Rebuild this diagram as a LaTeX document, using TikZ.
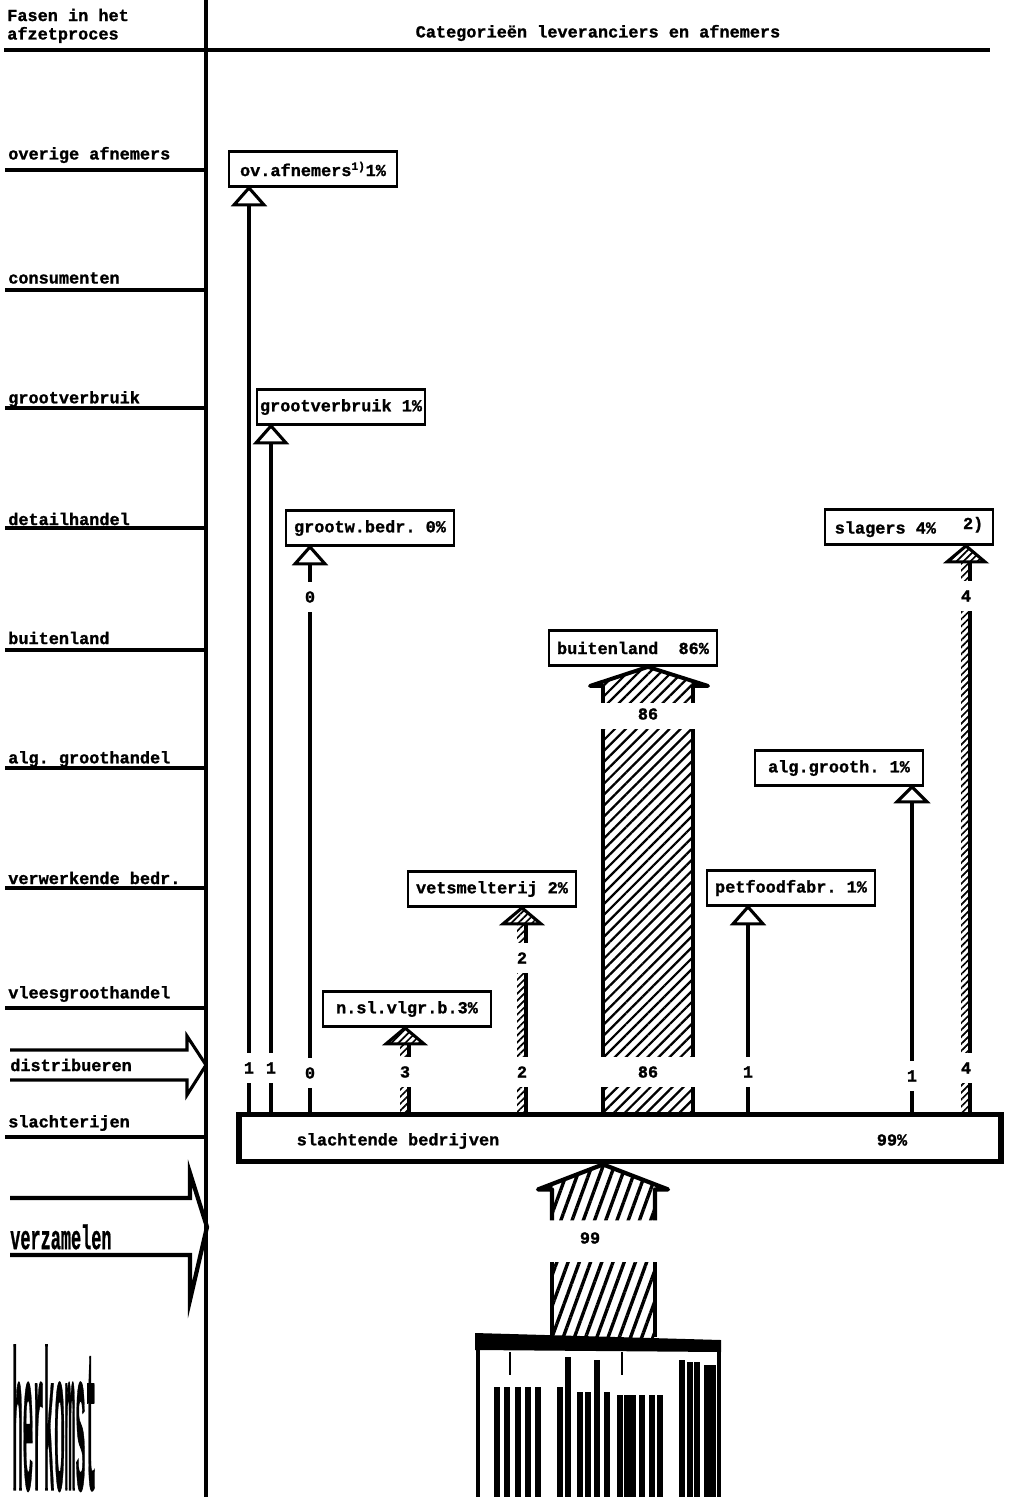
\documentclass[tikz,border=0pt]{standalone}
\usepackage{fontspec}
\setmainfont{Liberation Mono}[BoldFeatures={FakeBold=1.2}]
\usetikzlibrary{calc,patterns.meta}

\begin{document}
\frenchspacing
\begin{tikzpicture}[x=0.025cm,y=-0.025cm,
    font=\fontsize{12}{14}\selectfont\bfseries,
    phase/.style={anchor=west,inner sep=0pt},
    cat/.style={draw,line width=2pt,minimum width=4.2cm,minimum height=0.875cm,inner sep=2pt},
    num/.style={inner sep=0pt,minimum height=0.75cm},
    rule/.style={line width=2.2pt},
    flow/.style={line width=2.5pt},
    hatch/.style={pattern={Lines[angle=45,distance=3.5pt,line width=1.2pt]}},
    bighatch/.style={pattern={Lines[angle=45,distance=5.5pt,line width=1.6pt]}},
    steephatch/.style={pattern={Lines[angle=70,distance=7.5pt,line width=2.4pt]}},
    openhead/.style={line width=2.2pt,fill=white,line join=miter},
  ]
\useasboundingbox (0,0) rectangle (1009,1497);

% kop
\node[phase] (fasen) at (7,15) {Fasen in het};
\node[phase] (afzet) at (7,35) {afzetproces};
\node (categ) at (598,33) {Categorieën leveranciers en afnemers};
\draw[line width=2.8pt] (4,50) -- (990,50);
\draw[line width=3.5pt] (206,0) -- (206,1497);

% fasen in het afzetproces
\foreach \t/\y/\l [count=\i] in {overige afnemers/155/170, consumenten/278/290,
    grootverbruik/399/408, detailhandel/519/528, buitenland/638/650,
    alg. groothandel/759/768, verwerkende bedr./878/888,
    vleesgroothandel/994/1008, slachterijen/1123/1137}
  {
  \node[phase] (ph\i) at (8,\y) {\t};
  \draw[rule] (5,\l) -- (206,\l);
  }

\draw[rule,line join=miter] (10,1050) -- (187,1050) -- (187,1036) -- (206,1065)
  -- (187,1095) -- (187,1080) -- (10,1080);
\node[phase] (distr) at (10,1065) {distribueren};
\draw[line width=3pt,line join=miter] (10,1198) -- (190,1198) -- (190,1173) -- (207,1227)
  -- (190,1300) -- (190,1255) -- (10,1255);
\node[phase] (verz) at (10,1237) {\scalebox{1}[2]{verzamelen}};
\node[phase,anchor=north west] (herk) at (12,1345) {\resizebox{2.1cm}{3.6cm}{herkomst}};

% categorieen
\node[cat] (ovafn) at (313,169) {ov.afnemers\textsuperscript{1)}1\%};
\node[cat] (grootvb) at (341,407) {grootverbruik 1\%};
\node[cat] (grootw) at (370,528) {grootw.bedr. 0\%};
\node[cat] (slagers) at (909,527) {slagers 4\%\hspace{1.6em}\raisebox{0.5ex}{2)}};
\node[cat] (buitenl) at (633,648) {buitenland\ \ 86\%};
\node[cat] (alggr) at (839,768) {alg.grooth. 1\%};
\node[cat] (vetsm) at (492,889) {vetsmelterij 2\%};
\node[cat] (petfood) at (791,888) {petfoodfabr. 1\%};
\node[cat] (nsl) at (407,1009) {n.sl.vlgr.b.3\%};
\node[draw,line width=4pt,minimum width=19.05cm,minimum height=1.18cm] (bar) at (620,1138) {};
\node (bartxt) at (398,1141) {slachtende bedrijven};
\node (barpct) at (892,1140) {99\%};

% ov.afnemers
\node[num] (n1) at (249,1068) {1};
\draw[flow] (bar.north -| n1) -- (n1.south);
\draw[flow] (n1.north) -- ($(ovafn.south -| n1)+(0,17)$);
\draw[openhead] ($(ovafn.south -| n1)+(-15,17)$) -- (ovafn.south -| n1) -- ($(ovafn.south -| n1)+(15,17)$) -- cycle;

% grootverbruik
\node[num] (n2) at (271,1068) {1};
\draw[flow] (bar.north -| n2) -- (n2.south);
\draw[flow] (n2.north) -- ($(grootvb.south -| n2)+(0,17)$);
\draw[openhead] ($(grootvb.south -| n2)+(-15,17)$) -- (grootvb.south -| n2) -- ($(grootvb.south -| n2)+(15,17)$) -- cycle;

% grootw.bedr.
\node[num] (n3) at (310,1073) {0};
\node[num] (n3b) at (310,597) {0};
\draw[flow] (bar.north -| n3) -- (n3.south);
\draw[flow] (n3.north) -- (n3b.south);
\draw[flow] (n3b.north) -- ($(grootw.south -| n3)+(0,17)$);
\draw[openhead] ($(grootw.south -| n3)+(-15,17)$) -- (grootw.south -| n3) -- ($(grootw.south -| n3)+(15,17)$) -- cycle;

% n.sl.vlgr.b.
\node[num] (n4) at (405,1072) {3};
\path[hatch] ($(bar.north -| n4)+(-5,0)$) rectangle ($(n4.south)+(4,0)$);
\draw[flow] ($(bar.north -| n4)+(4,0)$) -- ($(n4.south)+(4,0)$);
\path[hatch] ($(n4.north)+(-5,0)$) rectangle ($(nsl.south -| n4)+(4,16)$);
\draw[flow] ($(n4.north)+(4,0)$) -- ($(nsl.south -| n4)+(4,16)$);
\draw[openhead,hatch] ($(nsl.south -| n4)+(-19,16)$) -- (nsl.south -| n4) -- ($(nsl.south -| n4)+(19,16)$) -- cycle;

% vetsmelterij
\node[num] (n5) at (522,1072) {2};
\node[num] (n5b) at (522,958) {2};
\path[hatch] ($(bar.north -| n5)+(-5,0)$) rectangle ($(n5.south)+(4,0)$);
\draw[flow] ($(bar.north -| n5)+(4,0)$) -- ($(n5.south)+(4,0)$);
\path[hatch] ($(n5.north)+(-5,0)$) rectangle ($(n5b.south)+(4,0)$);
\draw[flow] ($(n5.north)+(4,0)$) -- ($(n5b.south)+(4,0)$);
\path[hatch] ($(n5b.north)+(-5,0)$) rectangle ($(vetsm.south -| n5)+(4,16)$);
\draw[flow] ($(n5b.north)+(4,0)$) -- ($(vetsm.south -| n5)+(4,16)$);
\draw[openhead,hatch] ($(vetsm.south -| n5)+(-19,16)$) -- (vetsm.south -| n5) -- ($(vetsm.south -| n5)+(19,16)$) -- cycle;

% buitenland
\node[num] (n6) at (648,1072) {86};
\node[num] (n6b) at (648,714) {86};
\coordinate (h6) at (buitenl.south -| n6);
\path[bighatch] ($(bar.north -| n6)+(-45,0)$) rectangle ($(n6.south)+(45,0)$);
\draw[flow] ($(bar.north -| n6)+(-45,0)$) -- ($(n6.south)+(-45,0)$)
  ($(bar.north -| n6)+(45,0)$) -- ($(n6.south)+(45,0)$);
\path[bighatch] ($(n6.north)+(-45,0)$) rectangle ($(n6b.south)+(45,0)$);
\draw[flow] ($(n6.north)+(-45,0)$) -- ($(n6b.south)+(-45,0)$)
  ($(n6.north)+(45,0)$) -- ($(n6b.south)+(45,0)$);
\path[bighatch] ($(h6)+(-45,36)$) -- ($(h6)+(-45,19)$) -- ($(h6)+(-58,19)$) -- (h6)
  -- ($(h6)+(60,19)$) -- ($(h6)+(45,19)$) -- ($(h6)+(45,36)$) -- cycle;
\draw[line width=2.8pt,line join=round] ($(h6)+(-45,36)$) -- ($(h6)+(-45,19)$) -- ($(h6)+(-58,19)$)
  -- (h6) -- ($(h6)+(60,19)$) -- ($(h6)+(45,19)$) -- ($(h6)+(45,36)$);

% petfoodfabr.
\node[num] (n7) at (748,1072) {1};
\draw[flow] (bar.north -| n7) -- (n7.south);
\draw[flow] (n7.north) -- ($(petfood.south -| n7)+(0,17)$);
\draw[openhead] ($(petfood.south -| n7)+(-15,17)$) -- (petfood.south -| n7) -- ($(petfood.south -| n7)+(15,17)$) -- cycle;

% alg.grooth.
\node[num] (n8) at (912,1076) {1};
\draw[flow] (bar.north -| n8) -- (n8.south);
\draw[flow] (n8.north) -- ($(alggr.south -| n8)+(0,15)$);
\draw[openhead] ($(alggr.south -| n8)+(-15,15)$) -- (alggr.south -| n8) -- ($(alggr.south -| n8)+(15,15)$) -- cycle;

% slagers
\node[num] (n9) at (966,1068) {4};
\node[num] (n9b) at (966,596) {4};
\path[hatch] ($(bar.north -| n9)+(-5,0)$) rectangle ($(n9.south)+(4,0)$);
\draw[flow] ($(bar.north -| n9)+(4,0)$) -- ($(n9.south)+(4,0)$);
\path[hatch] ($(n9.north)+(-5,0)$) rectangle ($(n9b.south)+(4,0)$);
\draw[flow] ($(n9.north)+(4,0)$) -- ($(n9b.south)+(4,0)$);
\path[hatch] ($(n9b.north)+(-5,0)$) rectangle ($(slagers.south -| n9)+(4,16)$);
\draw[flow] ($(n9b.north)+(4,0)$) -- ($(slagers.south -| n9)+(4,16)$);
\draw[openhead,hatch] ($(slagers.south -| n9)+(-19,16)$) -- (slagers.south -| n9) -- ($(slagers.south -| n9)+(19,16)$) -- cycle;

% aanvoer 99
\coordinate (c99) at (603,1337);
\coordinate (t99) at (603,1262);
\node[num] (n99) at (590,1238) {99};
\coordinate (h99) at (bar.south -| c99);
\path[steephatch] ($(c99)+(-51,0)$) rectangle ($(t99)+(51,0)$);
\draw[flow] ($(c99)+(-51,0)$) -- ($(t99)+(-51,0)$) ($(c99)+(52,0)$) -- ($(t99)+(52,0)$);
\path[steephatch] ($(h99)+(-51,56)$) -- ($(h99)+(-51,25)$) -- ($(h99)+(-65,25)$) -- (h99)
  -- ($(h99)+(65,25)$) -- ($(h99)+(52,25)$) -- ($(h99)+(52,56)$) -- cycle;
\draw[line width=3pt,line join=round] ($(h99)+(-51,56)$) -- ($(h99)+(-51,25)$) -- ($(h99)+(-65,25)$)
  -- (h99) -- ($(h99)+(65,25)$) -- ($(h99)+(52,25)$) -- ($(h99)+(52,56)$);

% leveranciers
\fill (475,1333) -- (721,1340) -- (721,1352) -- (475,1350) -- cycle;
\draw[line width=3pt] (478,1497) -- (478,1345) (719,1345) -- (719,1497);
\foreach \x/\t in {497/1387, 507/1387, 518/1387, 528/1387, 538/1387, 560/1387,
    568/1357, 580/1392, 588/1392, 597/1360, 607/1392, 620/1395, 627/1395,
    633/1395, 642/1395, 652/1395, 660/1395, 682/1360, 690/1362, 697/1362,
    707/1365, 713/1365}
  \draw[line width=4.2pt] (\x,\t) -- (\x,1497);
\foreach \x in {510,622}
  \draw[line width=1.5pt] (\x,1352) -- (\x,1375);
\end{tikzpicture}
\end{document}
